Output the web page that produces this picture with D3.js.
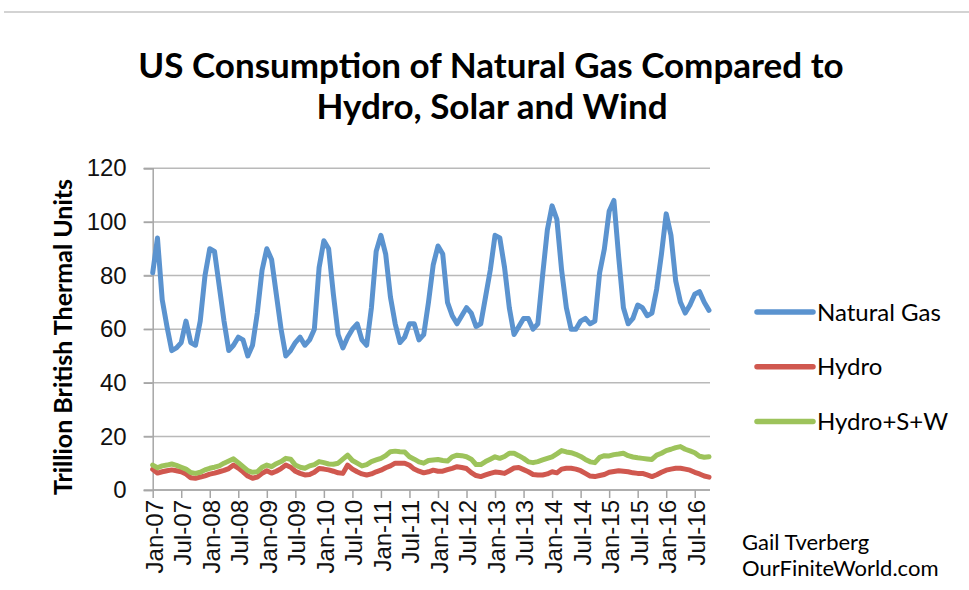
<!DOCTYPE html>
<html>
<head>
<meta charset="utf-8">
<script src="https://cdn.jsdelivr.net/npm/d3@7"></script>
<style>
  body { margin: 0; background: #fff; }
  svg { display: block; font-family: Lato, "Open Sans", sans-serif; }
  .grid line { stroke: #b9b9b9; stroke-width: 1.5; }
  .axis path, .axis line { stroke: #a6a6a6; stroke-width: 1.5; }
  .axis text { fill: #111; }
  .series { fill: none; stroke-width: 5; stroke-linejoin: round; stroke-linecap: round; }
</style>
</head>
<body>
<div id="chart"></div>
<script>
// monthly values, Jan-07 .. Oct-16 (trillion Btu per day)
let gas = [
    81, 94, 71, 61, 52, 53, 55, 63, 55, 54, 63, 80,
    90, 89, 76, 63, 52, 54, 57, 56, 50, 54, 66, 82,
    90, 86, 73, 60, 50, 52, 55, 57, 54, 56, 60, 83,
    93, 90, 73, 58, 53, 57, 60, 62, 56, 54, 68, 89,
    95, 88, 72, 62, 55, 57, 62, 62, 56, 58, 70, 84,
    91, 88, 70, 65, 62, 65, 68, 66, 61, 62, 72, 82,
    95, 94, 83, 68, 58, 61, 64, 64, 60, 62, 80, 97,
    106, 101, 82, 68, 60, 60, 63, 64, 62, 63, 81, 90,
    104, 108, 87, 68, 62, 64, 69, 68, 65, 66, 75, 88,
    103, 95, 78, 70, 66, 69, 73, 74, 70, 67
];
let hydro = [
    7.7, 6.3, 6.8, 7.2, 7.5, 7.2, 6.8, 6.0, 4.6, 4.4, 4.8, 5.3,
    5.9, 6.3, 6.8, 7.3, 8.0, 9.3, 8.2, 6.8, 5.2, 4.4, 4.8, 6.2,
    7.2, 6.3, 7.0, 8.0, 9.3, 8.5, 7.0, 6.2, 5.6, 5.8, 6.6, 8.0,
    7.8, 7.5, 7.0, 6.4, 6.2, 9.3, 7.8, 6.8, 6.0, 5.6, 6.0, 6.8,
    7.4, 8.3, 9.0, 10.0, 10.0, 10.0, 9.2, 7.8, 7.0, 6.4, 6.8, 7.4,
    7.0, 7.0, 7.6, 8.1, 8.7, 8.4, 8.0, 6.5, 5.4, 5.0, 5.6, 6.2,
    6.7, 6.5, 6.2, 7.2, 8.2, 8.4, 7.6, 6.8, 5.8, 5.6, 5.6, 6.0,
    6.8, 6.4, 7.8, 8.1, 8.1, 7.8, 7.2, 6.2, 5.2, 5.0, 5.4, 5.8,
    6.6, 6.9, 7.2, 7.0, 6.8, 6.4, 6.2, 6.2, 5.6, 5.0, 5.7, 6.6,
    7.4, 7.8, 8.1, 8.1, 7.8, 7.4, 6.6, 6.0, 5.2, 4.8
];
let hydroSW = [
    9.3, 8.3, 9.0, 9.3, 9.7, 9.2, 8.5, 7.8, 6.5, 6.2, 6.6, 7.5,
    8.1, 8.5, 9.0, 10.0, 10.8, 11.6, 10.2, 8.7, 7.2, 6.6, 6.8, 8.5,
    9.3, 8.7, 9.8, 10.6, 11.8, 11.5, 9.3, 8.5, 8.1, 9.0, 9.5, 10.6,
    10.2, 9.7, 9.6, 10.0, 11.5, 13.0, 11.0, 10.0, 9.0, 9.5, 10.6, 11.2,
    11.8, 12.8, 14.3, 14.5, 14.3, 14.2, 12.4, 11.5, 10.5, 10.0, 11.0, 11.2,
    11.4, 11.0, 10.8, 12.4, 13.0, 12.8, 12.4, 11.5, 9.5, 9.5, 10.6, 11.5,
    12.4, 11.8, 12.5, 13.7, 13.7, 12.8, 11.8, 10.5, 10.2, 10.6, 11.2, 11.8,
    12.4, 13.5, 14.7, 14.2, 13.9, 13.3, 12.5, 11.4, 10.5, 10.2, 12.2, 12.8,
    12.7, 13.2, 13.4, 13.7, 12.8, 12.3, 12.0, 11.8, 11.6, 11.4, 13.0, 13.7,
    14.7, 15.2, 15.8, 16.2, 15.2, 14.6, 13.9, 12.6, 12.2, 12.4
];
let tickLabels = ['Jan-07', 'Jul-07', 'Jan-08', 'Jul-08', 'Jan-09', 'Jul-09', 'Jan-10', 'Jul-10',
    'Jan-11', 'Jul-11', 'Jan-12', 'Jul-12', 'Jan-13', 'Jul-13', 'Jan-14', 'Jul-14',
    'Jan-15', 'Jul-15', 'Jan-16', 'Jul-16'];
let yTicks = [0, 20, 40, 60, 80, 100, 120];
let seriesNames = ['Natural Gas', 'Hydro', 'Hydro+S+W'];
let seriesColors = ['#5b93cf', '#d0584f', '#9dc35b'];

function draw_chart(anchor, svgWidth = 969, svgHeight = 590) {
    let svg = d3.select(anchor).append('svg')
        .attr('width', svgWidth)
        .attr('height', svgHeight);

    let left = 152.7, right = 709, top = 168.3, bottom = 490;
    let nMonths = gas.length;

    let x = d3.scaleLinear().domain([0, nMonths - 1]).range([left, right]),
        y = d3.scaleLinear().domain([0, 120]).range([bottom, top]);

    // thin rule at the top of the picture
    svg.append('line')
        .attr('x1', 4).attr('x2', svgWidth).attr('y1', 12).attr('y2', 12)
        .attr('stroke', '#c4c4c4').attr('stroke-width', 1.5);

    svg.append('text')
        .attr('x', 491).attr('y', 78)
        .attr('text-anchor', 'middle')
        .style('font-weight', 'bold').style('font-size', '35px')
        .text('US Consumption of Natural Gas Compared to');
    svg.append('text')
        .attr('x', 492).attr('y', 119)
        .attr('text-anchor', 'middle')
        .style('font-weight', 'bold').style('font-size', '35px')
        .text('Hydro, Solar and Wind');

    // horizontal gridlines with outside tick stubs
    svg.append('g')
        .attr('class', 'grid')
        .selectAll('line').data(yTicks)
        .enter().append('line')
        .attr('x1', left - 9).attr('x2', right + 1)
        .attr('y1', d => y(d)).attr('y2', d => y(d));

    let yAxis = svg.append('g')
        .attr('class', 'axis')
        .attr('transform', 'translate(' + left + ',0)')
        .call(d3.axisLeft(y).tickValues(yTicks).tickSize(9).tickPadding(17));
    yAxis.selectAll('text').style('font-size', '24px');

    let tickIdx = tickLabels.map((d, i) => i * 6);
    let xAxis = svg.append('g')
        .attr('class', 'axis')
        .attr('transform', 'translate(0,' + bottom + ')')
        .call(d3.axisBottom(x).tickValues(tickIdx).tickSize(8).tickSizeOuter(0)
            .tickFormat((d, i) => tickLabels[i]));
    xAxis.select('.domain').attr('d', 'M' + left + ',0H' + (right + 1));
    xAxis.selectAll('text')
        .style('font-size', '24px')
        .attr('text-anchor', 'end')
        .attr('transform', 'rotate(-90)')
        .attr('x', -10).attr('y', 1).attr('dy', '0.35em');

    svg.append('text')
        .attr('transform', 'translate(72,337) rotate(-90)')
        .attr('text-anchor', 'middle')
        .style('font-weight', 'bold').style('font-size', '25px')
        .text('Trillion British Thermal Units');

    let line = d3.line()
        .x((d, i) => x(i))
        .y(d => y(d));

    [gas, hydro, hydroSW].forEach(function (s, k) {
        svg.append('path')
            .datum(s)
            .attr('class', 'series')
            .attr('stroke', seriesColors[k])
            .attr('d', line);
    });

    // legend
    let legend = svg.append('g').attr('transform', 'translate(757,312)');
    seriesNames.forEach(function (name, k) {
        let g = legend.append('g').attr('transform', 'translate(0,' + (k * 54.7) + ')');
        g.append('line')
            .attr('x1', 0).attr('x2', 56)
            .attr('stroke', seriesColors[k]).attr('stroke-width', 5.5)
            .attr('stroke-linecap', 'round');
        g.append('text')
            .attr('x', 60).attr('y', 0).attr('dy', '0.36em')
            .style('font-size', '24px')
            .text(name);
    });

    svg.append('text')
        .attr('x', 742).attr('y', 550)
        .style('font-size', '22px')
        .text('Gail Tverberg');
    svg.append('text')
        .attr('x', 742).attr('y', 576)
        .style('font-size', '22px')
        .text('OurFiniteWorld.com');
}

draw_chart('#chart');
</script>
</body>
</html>
